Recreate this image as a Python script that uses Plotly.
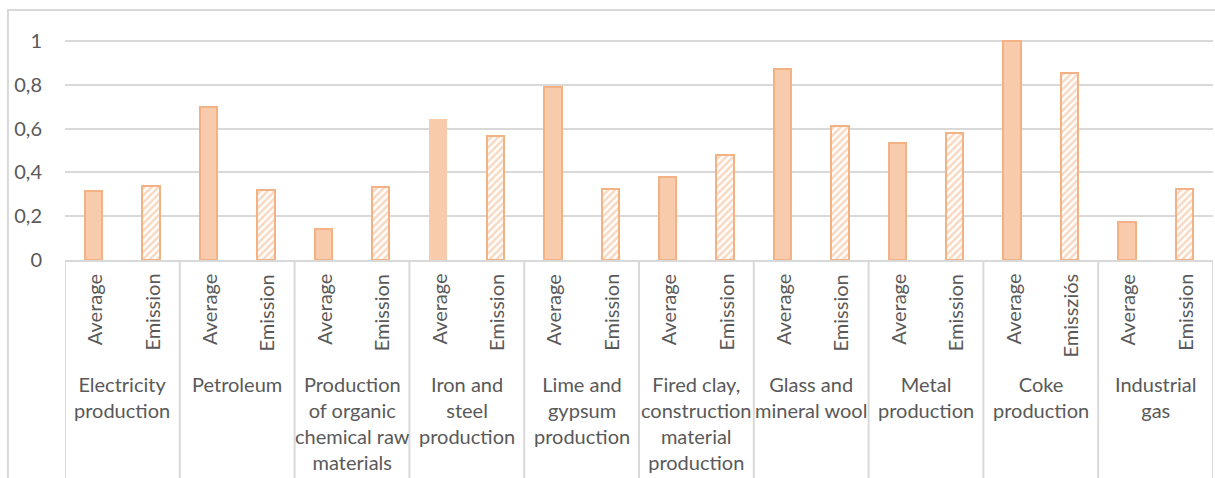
import plotly.graph_objects as go

# Sector groups (two bars each: average and emission score)
groups = [
    "Electricity<br>production",
    "Petroleum",
    "Production<br>of organic<br>chemical raw<br>materials",
    "Iron and<br>steel<br>production",
    "Lime and<br>gypsum<br>production",
    "Fired clay,<br>construction<br>material<br>production",
    "Glass and<br>mineral wool",
    "Metal<br>production",
    "Coke<br>production",
    "Industrial<br>gas",
]
average_values = [0.315, 0.697, 0.14, 0.645, 0.79, 0.38, 0.872, 0.536, 1.0, 0.175]
emission_values = [0.34, 0.32, 0.332, 0.568, 0.325, 0.48, 0.613, 0.579, 0.855, 0.325]
average_labels = ["Average"] * 10
emission_labels = ["Emission"] * 8 + ["Emissziós", "Emission"]
y_ticks = [0, 0.2, 0.4, 0.6, 0.8, 1]
y_tick_labels = ["0", "0,2", "0,4", "0,6", "0,8", "1"]

FILL = "#F8CBAD"
EDGE = "#F4B183"
GRID = "#D9D9D9"
TEXT = "#595959"
FONT = "Lato"

n = len(groups)
x_avg = [2 * i for i in range(n)]
x_emi = [2 * i + 1 for i in range(n)]

fig = go.Figure()
fig.add_trace(go.Bar(
    x=x_avg, y=average_values, width=0.3,
    marker=dict(color=FILL,
                line=dict(color=EDGE, width=[0 if i == 3 else 2 for i in range(n)])),
    showlegend=False, hoverinfo="y",
))
fig.add_trace(go.Bar(
    x=x_emi, y=emission_values, width=0.3,
    marker=dict(color="white", line=dict(color=EDGE, width=2),
                pattern=dict(shape="/", fgcolor=EDGE, bgcolor="white",
                             size=5, solidity=0.5)),
    showlegend=False, hoverinfo="y",
))

annotations = []
# Rotated bar labels under the axis
for xs, labels in ((x_avg, average_labels), (x_emi, emission_labels)):
    for x, lab in zip(xs, labels):
        annotations.append(dict(
            x=x, xref="x", y=0, yref="paper", yshift=-12,
            text=lab, textangle=-90, showarrow=False,
            xanchor="center", yanchor="top",
            font=dict(family=FONT, size=20, color=TEXT),
        ))
# Group labels
for i, g in enumerate(groups):
    annotations.append(dict(
        x=2 * i + 0.5, xref="x", y=0, yref="paper", yshift=-110,
        text=g, showarrow=False, xanchor="center", yanchor="top",
        align="center",
        font=dict(family=FONT, size=20, color=TEXT),
    ))

shapes = []
# Group separators below the axis
for i in range(n + 1):
    shapes.append(dict(
        type="line", xref="x", yref="paper",
        x0=2 * i - 0.5, x1=2 * i - 0.5, y0=0, y1=-1.2,
        line=dict(color=GRID, width=2),
    ))
# Chart frame
shapes.append(dict(
    type="rect", xref="paper", yref="paper",
    x0=-0.0497, x1=1.01, y0=-1.2, y1=1.037,
    line=dict(color=GRID, width=2), fillcolor="rgba(0,0,0,0)", layer="below",
))

fig.update_layout(
    width=1215, height=478,
    margin=dict(l=65, r=2, t=19, b=218),
    paper_bgcolor="white", plot_bgcolor="white",
    bargap=0, barmode="overlay",
    xaxis=dict(range=[-0.5, 2 * n - 0.5], showticklabels=False, showgrid=False,
               zeroline=False, showline=True, linecolor=GRID, linewidth=2),
    yaxis=dict(range=[0, 1.1], tickvals=y_ticks, ticktext=y_tick_labels,
               showgrid=True, gridcolor=GRID, gridwidth=2, zeroline=False,
               ticklabelstandoff=22,
               tickfont=dict(family=FONT, size=20, color=TEXT)),
    annotations=annotations,
    shapes=shapes,
)

fig.write_html("out.html")
